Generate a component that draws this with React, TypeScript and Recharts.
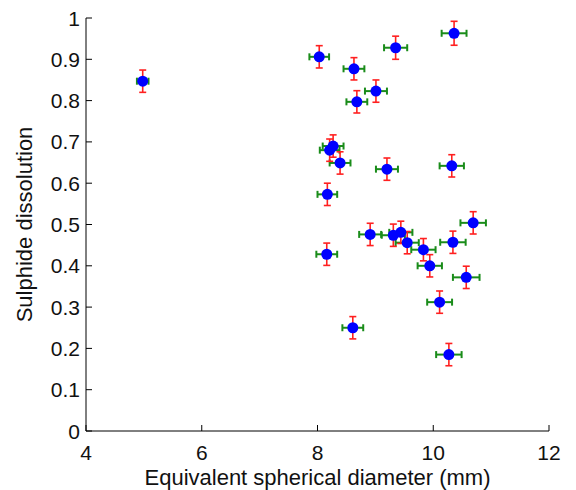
import React from "react";
import {ScatterChart, Scatter, XAxis, YAxis, ErrorBar, Label} from "recharts";

// equivalent spherical diameter (mm) and sulphide dissolution per particle
const diameter = [4.98, 8.03, 8.63, 9.35, 10.36, 9.01, 8.68, 8.21, 8.27, 8.39, 9.2, 10.32, 8.17,
    10.69, 8.91, 9.31, 9.44, 9.55, 9.83, 10.34, 9.94, 8.16, 10.57, 10.11, 8.61, 10.27];
const dissolution = [0.847, 0.906, 0.877, 0.928, 0.963, 0.823, 0.797, 0.68, 0.69, 0.649, 0.634, 0.642, 0.573,
    0.504, 0.476, 0.474, 0.481, 0.456, 0.439, 0.457, 0.4, 0.428, 0.372, 0.312, 0.25, 0.185];
const diameterError = [0.1, 0.17, 0.18, 0.2, 0.215, 0.19, 0.18, 0.17, 0.18, 0.18, 0.19, 0.21, 0.17,
    0.22, 0.19, 0.2, 0.2, 0.2, 0.21, 0.22, 0.21, 0.18, 0.23, 0.215, 0.18, 0.22];
const dissolutionError = [0.027, 0.027, 0.027, 0.028, 0.029, 0.027, 0.027, 0.027, 0.027, 0.027, 0.027, 0.027, 0.027,
    0.027, 0.027, 0.027, 0.027, 0.027, 0.027, 0.027, 0.027, 0.027, 0.027, 0.027, 0.027, 0.027];

const xTicks = [4, 6, 8, 10, 12];
const yTicks = [0, 0.1, 0.2, 0.3, 0.4, 0.5, 0.6, 0.7, 0.8, 0.9, 1];

const data = diameter.map((d, i) => ({
    d,
    s: dissolution[i],
    dErr: diameterError[i],
    sErr: dissolutionError[i],
}));

const FONT = "'Liberation Sans', Arial, Helvetica, sans-serif";
const TICK_LEN = 6;
const X_MARGIN = 14;
const Y_MARGIN = 6;

// MATLAB style ticks: tick marks point into the plot
const XTick = (props: any) => {
    const {x, y, payload} = props;
    const axisY = y - X_MARGIN;
    return (
        <g>
            <line x1={x} x2={x} y1={axisY} y2={axisY - TICK_LEN} stroke="#000" strokeWidth={1}/>
            <text x={x} y={y} dy="0.72em" textAnchor="middle" fontSize={21} fontFamily={FONT} fill="#111">
                {payload.value}
            </text>
        </g>
    );
};

const YTick = (props: any) => {
    const {x, y, payload} = props;
    const axisX = x + Y_MARGIN;
    return (
        <g>
            <line x1={axisX} x2={axisX + TICK_LEN} y1={y} y2={y} stroke="#000" strokeWidth={1}/>
            <text x={x} y={y} dy="0.36em" textAnchor="end" fontSize={21} fontFamily={FONT} fill="#111">
                {payload.value}
            </text>
        </g>
    );
};

const Dot = (props: any) => <circle cx={props.cx} cy={props.cy} r={5.5} fill="#0000ff"/>;
const Nothing = () => <g/>;

export default function App() {
    return (
        <div style={{position: "absolute", left: 0, top: 0}}>
            <ScatterChart width={576} height={490} margin={{top: 18, right: 27, bottom: 14, left: 26}}>
                <XAxis type="number" dataKey="d" domain={[4, 12]} ticks={xTicks} interval={0}
                       height={45} tickSize={0} tickMargin={X_MARGIN} tick={<XTick/>}
                       axisLine={{stroke: "#000", strokeWidth: 1}}>
                    <Label value="Equivalent spherical diameter (mm)" position="center" dy={24}
                           style={{fontSize: 22, fontFamily: FONT, fill: "#111"}}/>
                </XAxis>
                <YAxis type="number" dataKey="s" domain={[0, 1]} ticks={yTicks} interval={0}
                       width={60} tickSize={0} tickMargin={Y_MARGIN} tick={<YTick/>}
                       axisLine={{stroke: "#000", strokeWidth: 1}}>
                    <Label value="Sulphide dissolution" position="center" angle={-90} dx={-32}
                           style={{fontSize: 22, fontFamily: FONT, fill: "#111", textAnchor: "middle"}}/>
                </YAxis>
                <Scatter data={data} shape={<Dot/>} isAnimationActive={false}/>
                <Scatter data={data} shape={<Nothing/>} isAnimationActive={false}>
                    <ErrorBar dataKey="dErr" direction="x" stroke="#1a8c1a" strokeWidth={2} width={3.5}/>
                    <ErrorBar dataKey="sErr" direction="y" stroke="#ff2020" strokeWidth={1.6} width={3.5}/>
                </Scatter>
            </ScatterChart>
        </div>
    );
}
